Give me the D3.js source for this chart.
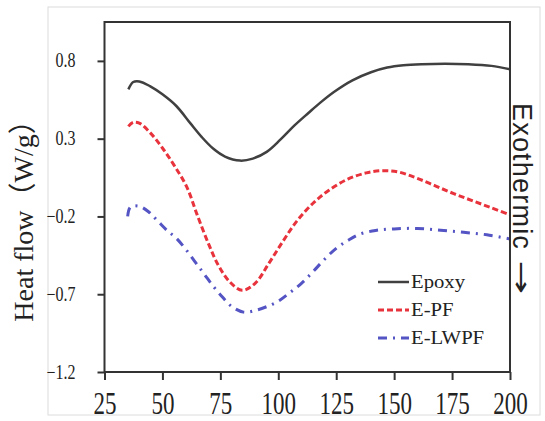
<!DOCTYPE html>
<html>
<head>
<meta charset="utf-8">
<script src="https://cdn.jsdelivr.net/npm/d3@7"></script>
<style>
  body { margin: 0; background: #fff; }
  svg { display: block; }
</style>
</head>
<body>
<svg width="545" height="421"></svg>
<script>
// DSC curves, values
var xTicks = [25, 50, 75, 100, 125, 150, 175, 200];
var yTicks = [-1.2, -0.7, -0.2, 0.3, 0.8];

var epoxyT = [35.3, 37.4, 40, 44.6, 50, 56, 62, 67, 72, 77, 83.5, 89, 95, 101, 107, 113, 118, 124, 132, 140, 147, 154, 162, 172, 182, 192, 200];
var epoxyV = [0.617, 0.664, 0.668, 0.638, 0.585, 0.51, 0.40, 0.31, 0.235, 0.185, 0.159, 0.172, 0.215, 0.295, 0.385, 0.465, 0.53, 0.6, 0.675, 0.727, 0.757, 0.772, 0.779, 0.782, 0.779, 0.768, 0.746];

var epfT = [35.3, 37.4, 40, 44.6, 50, 55, 60.5, 65, 70, 74, 79, 84.4, 90, 96, 102, 108, 115, 122, 130, 138, 145, 152, 160, 168, 176, 184, 192, 200];
var epfV = [0.379, 0.405, 0.40, 0.34, 0.24, 0.13, -0.01, -0.19, -0.38, -0.51, -0.62, -0.675, -0.63, -0.50, -0.36, -0.23, -0.115, -0.03, 0.04, 0.08, 0.094, 0.085, 0.045, -0.005, -0.055, -0.1, -0.145, -0.19];

var elwpfT = [35, 36.2, 40, 44, 48, 52, 56, 60, 64, 68, 72, 76, 80, 85, 90, 95, 100, 105, 110, 115, 120, 125, 130, 135, 142, 150, 160, 170, 180, 190, 200];
var elwpfV = [-0.2, -0.14, -0.135, -0.17, -0.23, -0.29, -0.34, -0.41, -0.49, -0.57, -0.65, -0.72, -0.78, -0.815, -0.805, -0.78, -0.745, -0.69, -0.63, -0.555, -0.475, -0.405, -0.355, -0.315, -0.29, -0.28, -0.277, -0.288, -0.302, -0.318, -0.345];

var names = ["Epoxy", "E-PF", "E-LWPF"];
var colors = ["#404040", "#e8323c", "#5454c4"];
var dashes = [null, "6,3", "9,6,2,6"];

var series = [
  {name: names[0], t: epoxyT, v: epoxyV},
  {name: names[1], t: epfT, v: epfV},
  {name: names[2], t: elwpfT, v: elwpfV}
];

var svg = d3.select("svg");
var serif = "'Times New Roman', 'Liberation Serif', serif";

// light outer chart border
svg.append("rect")
  .attr("x", 48).attr("y", 7)
  .attr("width", 492).attr("height", 408)
  .attr("fill", "none")
  .attr("stroke", "#dcdcdc");

// plot box (window.top is taken, so own names)
var plotL = 104.5, plotR = 510, plotT = 22, plotB = 372;

var xScale = d3.scaleLinear().domain([25, 200]).range([plotL, plotR]);
var yScale = d3.scaleLinear().domain([-1.2, 1.05]).range([plotB, plotT]);

var line = d3.line()
  .x(function(d) { return xScale(d[0]); })
  .y(function(d) { return yScale(d[1]); })
  .curve(d3.curveCatmullRom.alpha(0.5));

svg.selectAll("path.curve")
  .data(series)
  .enter().append("path")
  .attr("class", "curve")
  .attr("d", function(s) { return line(s.t.map(function(t, i) { return [t, s.v[i]]; })); })
  .attr("fill", "none")
  .attr("stroke", function(s, i) { return colors[i]; })
  .attr("stroke-width", function(s, i) { return i == 0 ? 2.5 : 3; })
  .attr("stroke-dasharray", function(s, i) { return dashes[i]; });

// plot frame
svg.append("rect")
  .attr("x", plotL).attr("y", plotT)
  .attr("width", plotR - plotL).attr("height", plotB - plotT)
  .attr("fill", "none")
  .attr("stroke", "#333")
  .attr("stroke-width", 2);

// x axis
var gx = svg.append("g")
  .attr("transform", "translate(0," + plotB + ")")
  .call(d3.axisBottom(xScale).tickValues(xTicks).tickSize(8).tickSizeOuter(0));
gx.select(".domain").remove();
gx.selectAll("line").attr("stroke", "#333").attr("stroke-width", 2);
gx.selectAll("text")
  .attr("y", 0).attr("dy", 0)
  .attr("transform", "translate(0,42) scale(1,1.4)")
  .attr("font-family", serif)
  .attr("font-size", 23)
  .attr("fill", "#222");

// y axis
var gy = svg.append("g")
  .attr("transform", "translate(" + plotL + ",0)")
  .call(d3.axisLeft(yScale).tickValues(yTicks).tickSize(7).tickSizeOuter(0)
        .tickFormat(d3.format(".1f")));
gy.select(".domain").remove();
gy.selectAll("line").attr("stroke", "#333").attr("stroke-width", 2);
gy.selectAll("text")
  .attr("x", 0).attr("dy", 0)
  .attr("transform", "translate(-29,6) scale(1,1.25)")
  .attr("font-family", serif)
  .attr("font-size", 16)
  .attr("fill", "#222");

// axis title
svg.append("text")
  .attr("transform", "translate(33,214) rotate(-90)")
  .attr("text-anchor", "middle")
  .attr("font-family", serif + ", 'Noto Sans CJK SC'")
  .attr("font-size", 28)
  .attr("fill", "#222")
  .text("Heat flow（W/g）");

// right side note
svg.append("text")
  .attr("transform", "translate(513,103) rotate(90)")
  .attr("font-family", "'Liberation Sans', Arial, sans-serif")
  .attr("font-size", 27)
  .attr("letter-spacing", 1.2)
  .attr("fill", "#222")
  .text("Exothermic");
svg.append("text")
  .attr("transform", "translate(521,292) scale(0.8,1.25)")
  .attr("text-anchor", "middle")
  .attr("font-family", "'DejaVu Sans', sans-serif")
  .attr("font-size", 32)
  .attr("fill", "#222")
  .text("↓");

// legend
var legend = svg.append("g").attr("transform", "translate(378,282)");
var item = legend.selectAll("g")
  .data(names)
  .enter().append("g")
  .attr("transform", function(d, i) { return "translate(0," + (i * 28) + ")"; });
item.append("line")
  .attr("x1", 0).attr("x2", 31)
  .attr("stroke", function(d, i) { return colors[i]; })
  .attr("stroke-width", function(d, i) { return i == 0 ? 2.5 : 3; })
  .attr("stroke-dasharray", function(d, i) { return dashes[i]; });
item.append("text")
  .attr("transform", "translate(33,6) scale(1.15,1)")
  .attr("font-family", serif)
  .attr("font-size", 18)
  .attr("fill", "#222")
  .text(function(d) { return d; });
</script>
</body>
</html>
